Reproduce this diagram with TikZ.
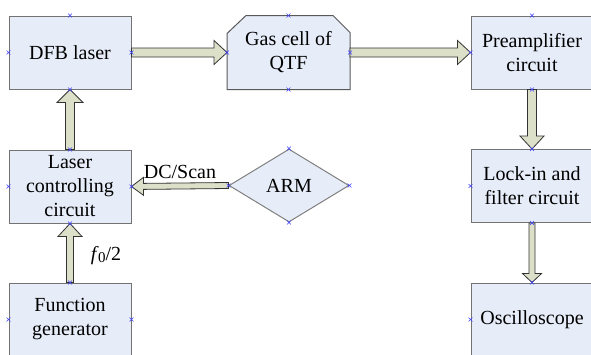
\documentclass[tikz,border=0pt]{standalone}
\usepackage{fontspec}
\setmainfont{Liberation Serif}
\usetikzlibrary{shapes,calc,positioning,backgrounds}

\definecolor{boxfill}{HTML}{E6ECF8}
\definecolor{arrfill}{HTML}{DDE0C8}

% block arrow: from, to, half shaft width, half head width, head length
\newcommand{\fatarrow}[5]{%
  \path ($(#2)!#5!(#1)$) coordinate (fa-base);
  \draw[fatarr] ($(#1)!#3!90:(#2)$) -- ($(fa-base)!#3!90:(#2)$)
    -- ($(fa-base)!#4!90:(#2)$) -- (#2) -- ($(fa-base)!#4!-90:(#2)$)
    -- ($(fa-base)!#3!-90:(#2)$) -- ($(#1)!#3!-90:(#2)$) -- cycle;
}

\begin{document}
\begin{tikzpicture}[x=1pt,y=-1pt]

\tikzset{block/.style = {shape=rectangle,draw=black!55,fill=boxfill,line width=1pt,minimum width=122pt,minimum height=73pt,inner sep=2pt,align=center,font=\fontsize{20}{24}\selectfont}}
\tikzset{cell/.style = {block,draw=none,fill=none}}
\tikzset{decide/.style = {block,diamond,draw=black!50,minimum width=120pt,minimum height=73pt,inner sep=0pt}}
\tikzset{fatarr/.style = {draw=black!80,fill=arrfill,line width=0.8pt}}
\tikzset{cpt/.style = {cross out,draw=blue!75,line width=0.4pt,minimum size=3.5pt,inner sep=0pt}}
\tikzset{lbl/.style = {font=\fontsize{20}{24}\selectfont}}

\useasboundingbox (0,0) rectangle (591,354);

% boxes
\node[block] (dfb) at (70,52.5) {DFB laser};
\node[cell] (gas) at (288.5,52.5) {Gas cell of\\QTF};
\node[block] (pre) at (532,52.5) {Preamplifier\\circuit};
\node[block] (ctrl) at (70,186.5) {Laser\\controlling\\circuit};
\node[decide] (arm) at (289,185.5) {ARM};
\node[block] (lock) at (532,186) {Lock-in and\\filter circuit};
\node[block] (func) at (70,319.5) {Function\\generator};
\node[block] (osc) at (532,319.5) {Oscilloscope};

% gas cell outline, top corners cut
\begin{scope}[on background layer]
\draw[draw=black!65,fill=boxfill,line width=1pt]
  (gas.south west) -- ($(gas.north west)+(0,18)$) -- ($(gas.north west)+(19,0)$)
  -- ($(gas.north east)+(-17,0)$) -- ($(gas.north east)+(0,17)$)
  -- (gas.south east) -- cycle;
\end{scope}

% arrows
\fatarrow{dfb.east}{gas.west}{4.5pt}{12pt}{13pt}
\fatarrow{gas.east}{pre.west}{4.5pt}{12pt}{13pt}
\fatarrow{ctrl.north}{dfb.south}{4.5pt}{13pt}{13pt}
\fatarrow{pre.south}{lock.north}{4.5pt}{12pt}{13pt}
\fatarrow{lock.south}{osc.north}{3pt}{9.5pt}{9pt}
\fatarrow{arm.west}{ctrl.east}{3pt}{9pt}{12pt}
\fatarrow{func.north}{ctrl.south}{3.5pt}{12pt}{13pt}

% labels
\node[lbl] (dc) at (180,172) {DC/Scan};
\node[lbl] (f0) at (106,256) {\textit{f}\kern-0.5pt\raisebox{-2pt}{\fontsize{15}{15}\selectfont 0}/2};

% connection points
\foreach \n/\a in {dfb/north,dfb/south,dfb/west,dfb/east,
  gas/north,gas/south,gas/west,gas/east,
  pre/north,pre/south,pre/west,pre/east,
  ctrl/north,ctrl/south,ctrl/west,ctrl/east,
  arm/north,arm/south,arm/west,arm/east,
  lock/north,lock/south,lock/west,lock/east,
  func/north,func/west,func/east,
  osc/north,osc/west,osc/east}
  \node[cpt] at (\n.\a) {};

\end{tikzpicture}
\end{document}
